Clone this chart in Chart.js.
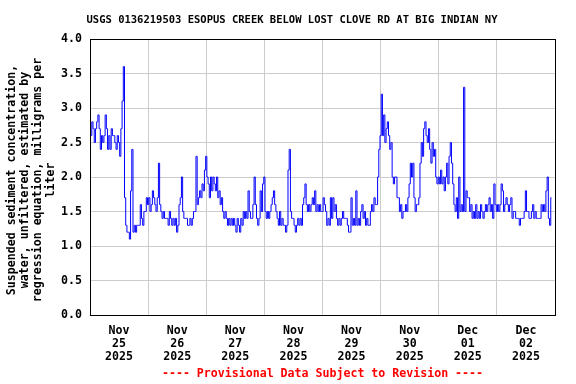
<!DOCTYPE html>
<html>
<head>
<meta charset="utf-8">
<script src="https://cdn.jsdelivr.net/npm/chart.js@4/dist/chart.umd.min.js"></script>
<style>
  html, body { margin: 0; padding: 0; background: #ffffff; }
  canvas { display: block; }
</style>
</head>
<body>
<canvas id="c" width="576" height="384"></canvas>
<script>
// Half-hourly sediment concentration (mg/L), one array per day
const nov25 = [2.7,2.6,2.8,2.7,2.5,2.7,2.8,2.9,2.7,2.4,2.6,2.5,2.6,2.9,2.7,2.4,2.6,2.4,2.7,2.6,2.6,2.5,2.4,2.6,2.5,2.3,2.7,3.1,3.6,1.7,1.3,1.2,1.2,1.1,1.8,2.4,1.2,1.3,1.2,1.3,1.3,1.3,1.6,1.4,1.3,1.5,1.5,1.7];
const nov26 = [1.6,1.7,1.5,1.6,1.8,1.7,1.6,1.5,1.7,2.2,1.6,1.5,1.4,1.5,1.4,1.4,1.4,1.3,1.5,1.4,1.3,1.4,1.3,1.4,1.2,1.3,1.6,1.7,2.0,1.5,1.4,1.4,1.4,1.3,1.3,1.4,1.3,1.4,1.5,1.5,2.3,1.6,1.7,1.8,1.7,1.9,1.8,2.1];
const nov27 = [2.3,2.0,1.9,1.7,2.0,1.8,2.0,1.9,1.8,2.0,1.7,1.8,1.6,1.7,1.5,1.4,1.5,1.4,1.3,1.4,1.3,1.4,1.3,1.4,1.3,1.2,1.4,1.3,1.2,1.4,1.3,1.5,1.4,1.5,1.4,1.8,1.5,1.4,1.4,1.6,2.0,1.6,1.4,1.3,1.4,1.8,1.5,1.9];
const nov28 = [2.0,1.5,1.4,1.5,1.4,1.5,1.6,1.7,1.8,1.6,1.5,1.4,1.3,1.5,1.3,1.4,1.3,1.3,1.2,1.3,2.1,2.4,1.5,1.4,1.4,1.3,1.2,1.3,1.4,1.3,1.4,1.3,1.6,1.7,1.9,1.6,1.5,1.6,1.5,1.6,1.7,1.6,1.8,1.5,1.6,1.5,1.6,1.5];
const nov29 = [1.5,1.7,1.6,1.5,1.3,1.4,1.3,1.7,1.4,1.7,1.5,1.6,1.4,1.3,1.4,1.3,1.4,1.5,1.4,1.4,1.4,1.3,1.2,1.2,1.7,1.3,1.4,1.3,1.8,1.3,1.4,1.3,1.5,1.6,1.4,1.5,1.3,1.4,1.3,1.3,1.5,1.6,1.5,1.7,1.6,1.6,2.0,2.4];
const nov30 = [2.6,3.2,2.6,2.9,2.5,2.7,2.8,2.6,2.4,2.5,2.0,1.9,2.0,2.0,1.7,1.7,1.5,1.6,1.4,1.5,1.5,1.6,1.5,1.7,1.9,2.2,2.0,2.2,1.7,1.5,1.6,1.6,1.7,2.2,2.5,2.3,2.7,2.8,2.6,2.5,2.7,2.4,2.2,2.5,2.3,2.4,2.0,1.9];
const dec01 = [2.0,1.9,2.1,1.9,2.0,1.8,2.0,2.2,1.9,2.3,2.5,2.2,1.9,1.6,1.5,1.7,1.4,2.0,1.5,1.6,1.5,3.3,1.5,1.8,1.7,1.7,1.5,1.6,1.4,1.5,1.4,1.6,1.4,1.5,1.4,1.6,1.5,1.4,1.5,1.6,1.5,1.6,1.7,1.5,1.6,1.4,1.9,1.6];
const dec02 = [1.5,1.6,1.5,1.6,1.9,1.8,1.5,1.6,1.7,1.6,1.5,1.6,1.7,1.4,1.5,1.5,1.4,1.4,1.4,1.3,1.4,1.4,1.4,1.5,1.8,1.5,1.5,1.4,1.4,1.5,1.6,1.4,1.5,1.4,1.4,1.4,1.4,1.6,1.5,1.6,1.5,1.8,2.0,1.4,1.3,1.7];

// Tick labels (one per day, shown at noon)
const tickMonths = ['Nov','Nov','Nov','Nov','Nov','Nov','Dec','Dec'];
const tickDays   = ['25','26','27','28','29','30','01','02'];
const tickYears  = ['2025','2025','2025','2025','2025','2025','2025','2025'];

const titleText  = 'USGS 0136219503 ESOPUS CREEK BELOW LOST CLOVE RD AT BIG INDIAN NY';
const yTitleLines = ['Suspended sediment concentration,', 'water, unfiltered, estimated by', 'regression equation, milligrams per', 'liter'];
const footerText = '---- Provisional Data Subject to Revision ----';

const days = [nov25, nov26, nov27, nov28, nov29, nov30, dec01, dec02];
const points = [];
days.forEach((arr, d) => arr.forEach((v, i) => points.push({ x: d * 24 + i * 0.5, y: v })));

const FONT = '"DejaVu Sans Mono", "Liberation Mono", monospace';

const textPlugin = {
  id: 'texts',
  afterDraw(chart) {
    const ctx = chart.ctx;
    const a = chart.chartArea;
    ctx.save();
    // plot frame
    ctx.strokeStyle = '#000';
    ctx.lineWidth = 1;
    ctx.strokeRect(Math.round(a.left) + 0.5, Math.round(a.top) + 0.5,
                   Math.round(a.right - a.left), Math.round(a.bottom - a.top));
    ctx.fillStyle = '#000';
    ctx.textAlign = 'center';
    ctx.textBaseline = 'middle';
    ctx.font = 'bold 10.5px ' + FONT;
    ctx.fillText(titleText, 292, 20);
    // y axis title (rotated)
    ctx.font = 'bold 11.6px ' + FONT;
    const cy = (a.top + a.bottom) / 2 + 3;
    yTitleLines.forEach((line, i) => {
      ctx.save();
      ctx.translate(12 + i * 13, cy);
      ctx.rotate(-Math.PI / 2);
      ctx.fillText(line, 0, 0);
      ctx.restore();
    });
    ctx.fillStyle = '#ff0000';
    ctx.fillText(footerText, (a.left + a.right) / 2, 374);
    ctx.restore();
  }
};

new Chart(document.getElementById('c'), {
  type: 'line',
  data: {
    datasets: [{
      data: points,
      borderColor: '#0000ff',
      borderWidth: 1,
      pointRadius: 0,
      tension: 0,
      stepped: 'middle',
      fill: false
    }]
  },
  options: {
    responsive: false,
    devicePixelRatio: 1,
    animation: false,
    layout: { padding: { left: 0, right: 21, top: 39, bottom: 0 } },
    plugins: { legend: { display: false }, tooltip: { enabled: false }, title: { display: false } },
    scales: {
      x: {
        type: 'linear',
        min: 0,
        max: 192,
        afterFit(scale) { scale.height = 69; },
        border: { display: false },
        grid: {
          drawTicks: false,
          lineWidth: 1,
          color: (ctx) => (ctx.tick && ctx.tick.value % 24 === 0) ? '#cccccc' : 'rgba(0,0,0,0)'
        },
        ticks: {
          stepSize: 12,
          autoSkip: false,
          maxRotation: 0,
          minRotation: 0,
          padding: 10,
          color: '#000',
          font: { family: FONT, size: 11.6, weight: 'bold', lineHeight: 1.1 },
          callback: (v) => {
            if (v % 24 !== 12) return '';
            const d = Math.floor(v / 24);
            return [tickMonths[d], tickDays[d], tickYears[d]];
          }
        }
      },
      y: {
        min: 0,
        max: 4,
        afterFit(scale) { scale.width = 90; },
        border: { display: false },
        grid: { drawTicks: false, color: '#cccccc', lineWidth: 1 },
        ticks: {
          stepSize: 0.5,
          padding: 8,
          color: '#000',
          font: { family: FONT, size: 11.6, weight: 'bold' },
          callback: (v) => v.toFixed(1)
        }
      }
    }
  },
  plugins: [textPlugin]
});
</script>
</body>
</html>
